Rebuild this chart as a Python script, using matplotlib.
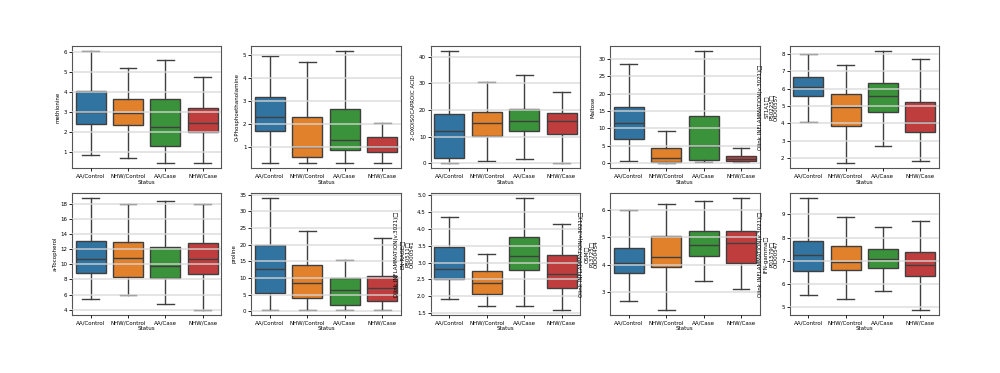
import numpy as np
import matplotlib
matplotlib.use("Agg")
import matplotlib.pyplot as plt

groups = ["AA/Control", "NHW/Control", "AA/Case", "NHW/Case"]
colors = ["#3274a1", "#e1812c", "#3a923a", "#c03d3e"]

# (low whisker, q1, median, q3, high whisker) per group
methionine = [(0.85, 2.38, 3.0, 4.05, 6.05), (0.68, 2.35, 2.95, 3.68, 5.2),
              (0.45, 1.27, 2.25, 3.65, 5.6), (0.45, 2.02, 2.47, 3.2, 4.77)]
phospho = [(0.3, 1.67, 2.3, 3.15, 4.95), (0.3, 0.57, 1.0, 2.28, 4.67),
           (0.3, 0.85, 1.3, 2.63, 5.15), (0.3, 0.75, 0.97, 1.4, 2.03)]
oxoiso = [(0.25, 1.9, 12.25, 18.5, 41.9), (1.0, 10.1, 15.0, 19.1, 30.4),
          (1.75, 12.0, 15.75, 20.4, 33.25), (0.25, 11.1, 15.75, 18.9, 26.9)]
maltose = [(0.6, 6.9, 11.4, 16.2, 28.5), (0.1, 0.2, 1.5, 4.3, 9.3),
           (0.3, 1.0, 4.8, 13.4, 32.1), (0.2, 0.5, 1.1, 2.1, 4.3)]
st1a1 = [(4.1, 5.6, 6.12, 6.64, 8.0), (1.75, 3.84, 4.93, 5.7, 7.37),
         (2.71, 4.68, 5.58, 6.31, 8.13), (1.87, 3.5, 4.11, 5.22, 7.69)]
tocopherol = [(5.4, 8.84, 10.73, 13.15, 18.75), (5.97, 8.3, 10.8, 12.9, 18.0),
              (4.75, 8.2, 9.8, 12.3, 18.44), (4.0, 8.7, 10.7, 12.85, 18.0)]
proline = [(0.5, 5.5, 12.7, 19.75, 33.9), (0.5, 4.0, 8.5, 14.0, 24.2),
           (0.5, 2.0, 6.3, 10.1, 15.4), (0.5, 3.1, 7.0, 10.5, 22.1)]
enrage = [(1.93, 2.51, 2.82, 3.45, 4.36), (1.71, 2.06, 2.4, 2.75, 3.24),
          (1.71, 2.77, 3.2, 3.77, 4.91), (1.6, 2.25, 2.66, 3.22, 4.15)]
osm = [(2.65, 3.7, 4.07, 4.61, 6.0), (2.35, 3.91, 4.28, 5.05, 6.2),
       (3.4, 4.3, 4.72, 5.23, 6.33), (3.1, 4.07, 4.8, 5.23, 6.42)]
ifng = [(5.53, 6.56, 7.24, 7.86, 9.69), (5.37, 6.62, 6.95, 7.65, 8.88),
        (5.71, 6.7, 7.09, 7.5, 8.47), (4.9, 6.33, 6.82, 7.38, 8.73)]

olink = "Olink INFLAMMATION(v.3021)\u25a1\n"
panels = [
    ("methionine", methionine, [1, 2, 3, 4, 5, 6]),
    ("O-Phosphoethanolamine", phospho, [1, 2, 3, 4, 5]),
    ("2-OXOISOCAPROIC ACID", oxoiso, [0, 10, 20, 30, 40]),
    ("Maltose", maltose, [0, 5, 10, 15, 20, 25, 30]),
    (olink + "ST1A1\u25a1\nP50225\u25a1\nOID00557", st1a1, [2, 3, 4, 5, 6, 7, 8]),
    ("a-Tocopherol", tocopherol, [4, 6, 8, 10, 12, 14, 16, 18]),
    ("proline", proline, [0, 5, 10, 15, 20, 25, 30, 35]),
    (olink + "EN-RAGE\u25a1\nP80511\u25a1\nOID00541", enrage,
     [1.5, 2.0, 2.5, 3.0, 3.5, 4.0, 4.5, 5.0]),
    (olink + "OSM\u25a1\nP13725\u25a1\nOID00454", osm, [3, 4, 5, 6]),
    (olink + "IFN-gamma\u25a1\nP01579\u25a1\nOID00547", ifng, [5, 6, 7, 8, 9]),
]

fs = 4.0
fig, axes = plt.subplots(2, 5, figsize=(10, 3.73), dpi=100)
fig.subplots_adjust(left=0.072, right=0.939, top=0.877, bottom=0.155,
                    wspace=0.2, hspace=0.2)

for ax, (label, stats, ticks) in zip(axes.flat, panels):
    bstats = [dict(whislo=s[0], q1=s[1], med=s[2], q3=s[3], whishi=s[4],
                   label=g) for s, g in zip(stats, groups)]
    bp = ax.bxp(bstats, positions=range(4), widths=0.8, patch_artist=True,
                showfliers=False, capwidths=0.45,
                boxprops=dict(edgecolor="#3f3f3f", linewidth=1.0),
                medianprops=dict(color="#3f3f3f", linewidth=1.0),
                whiskerprops=dict(color="#3f3f3f", linewidth=1.0),
                capprops=dict(color="#3f3f3f", linewidth=1.0))
    for patch, c in zip(bp["boxes"], colors):
        patch.set_facecolor(c)
    lo = min(s[0] for s in stats)
    hi = max(s[4] for s in stats)
    pad = (hi - lo) * 0.05
    ax.set_ylim(lo - pad, hi + pad)
    ax.set_xlim(-0.5, 3.5)
    ax.set_yticks(ticks)
    ax.set_axisbelow(False)
    ax.yaxis.grid(True, color="#d8d8d8", linewidth=1.2, alpha=0.8)
    ax.set_xticks(range(4))
    ax.set_xticklabels(groups)
    ax.tick_params(labelsize=fs, length=2, width=0.6, pad=1.5)
    ax.set_xlabel("Status", fontsize=fs, labelpad=1)
    ax.set_ylabel(label, fontsize=fs, labelpad=2, linespacing=1.0)
    for sp in ax.spines.values():
        sp.set_color("#555555")
        sp.set_linewidth(0.8)

fig.savefig("out.png", dpi=100)
